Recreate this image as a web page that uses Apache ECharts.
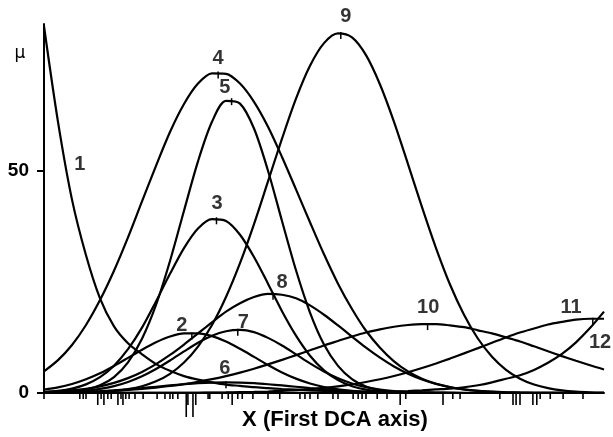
<!DOCTYPE html>
<html><head><meta charset="utf-8">
<script src="https://cdn.jsdelivr.net/npm/echarts@6/dist/echarts.min.js"></script>
<style>html,body{margin:0;padding:0;background:#fff}#c{width:613px;height:437px}</style>
</head><body><div id="c"></div>
<script>
// sample positions along the first DCA axis (0..100)
const xs = [0,2.5,5,7.5,10,12.5,15,17.5,20,22.5,25,27.5,30,32.5,35,37.5,40,42.5,45,47.5,50,52.5,55,57.5,60,62.5,65,67.5,70,72.5,75,77.5,80,82.5,85,87.5,90,92.5,95,97.5,100];

const curve1 = [82.5,61,43.5,31,21.3,15,11.2,8.7,6.5,5.0,3.8,3.0,2.4,1.9,1.6,1.3,1.1,0.9,0.75,0.6,0.5,0.4,0.3,0.25,0.2,0.15,0.12,0.1,0.08,0.06,0.05,0.04,0.03,0.03,0.02,0.02,0.02,0.01,0.01,0.01,0.01];
const curve2 = [0.76,1.27,2.03,3.09,4.44,6.08,7.89,9.73,11.4,12.7,13.4,13.4,12.8,11.6,9.94,8.12,6.29,4.63,3.23,2.14,1.35,0.81,0.46,0.25,0.13,0.06,0.03,0.01,0,0,0,0,0,0,0,0,0,0,0,0,0];
const curve3 = [0.20,0.46,0.98,1.94,3.56,6.15,9.85,14.7,20.6,26.8,32.6,37.0,39.1,38.7,35.6,30.6,24.6,18.4,12.9,8.39,5.10,2.89,1.53,0.76,0.35,0.15,0.06,0.02,0,0,0,0,0,0,0,0,0,0,0,0,0];
const curve4 = [4.87,7.39,10.8,15.3,20.9,27.5,35.0,43.1,51.1,58.7,65.0,69.6,71.9,71.8,69.6,65.5,59.9,53.1,45.8,38.4,31.2,24.6,18.9,14.0,10.2,7.13,4.85,3.21,2.07,1.29,0.78,0.46,0.26,0.15,0.08,0.04,0.02,0.01,0,0,0];
const curve5 = [0.04,0.12,0.31,0.76,1.72,3.59,6.89,12.2,19.8,29.7,41.0,52.1,61.0,65.7,65.1,59.5,50.0,38.7,27.6,18.1,10.9,6.10,3.12,1.48,0.64,0.26,0.10,0.03,0,0,0,0,0,0,0,0,0,0,0,0,0];
const curve6 = [0.06,0.1,0.17,0.28,0.41,0.6,0.83,1.1,1.4,1.7,1.97,2.2,2.35,2.4,2.35,2.2,1.97,1.7,1.4,1.1,0.83,0.6,0.41,0.28,0.17,0.1,0.06,0.04,0.02,0.01,0,0,0,0,0,0,0,0,0,0,0];
const curve7 = [0.06,0.13,0.27,0.51,0.91,1.55,2.49,3.77,5.40,7.31,9.35,11.3,12.9,13.9,14.2,13.7,12.4,10.7,8.70,6.67,4.84,3.32,2.15,1.32,0.76,0.42,0.21,0.10,0.05,0.02,0,0,0,0,0,0,0,0,0,0,0];
const curve8 = [0.20,0.35,0.58,0.95,1.50,2.28,3.35,4.74,6.49,8.56,10.9,13.4,15.9,18.3,20.2,21.6,22.3,22.1,21.3,19.7,17.6,15.2,12.7,10.2,7.95,5.97,4.32,3.02,2.04,1.33,0.83,0.51,0.30,0.17,0.09,0.05,0.02,0.01,0,0,0];
const curve9 = [0.01,0.03,0.06,0.12,0.24,0.46,0.86,1.53,2.62,4.32,6.86,10.45,15.3,21.6,29.2,38.0,47.6,57.2,66.2,73.6,78.7,80.9,80.0,76.0,69.4,61.0,51.5,41.8,32.6,24.4,17.6,12.2,8.16,5.22,3.22,1.91,1.09,0.59,0.31,0.16,0.08];
const curve10 = [0.10,0.14,0.20,0.28,0.38,0.52,0.70,0.93,1.21,1.57,2.0,2.51,3.11,3.81,4.59,5.47,6.43,7.45,8.52,9.6,10.7,11.7,12.7,13.6,14.3,14.9,15.3,15.5,15.5,15.2,14.8,14.1,13.4,12.5,11.6,10.5,9.39,8.3,7.24,6.23,5.29];
const curve11 = [0.01,0.01,0.01,0.01,0.01,0.01,0.01,0.01,0.02,0.02,0.04,0.06,0.08,0.12,0.18,0.24,0.34,0.48,0.65,0.88,1.16,1.51,1.95,2.48,3.1,3.83,4.67,5.61,6.64,7.74,8.91,10.1,11.3,12.5,13.6,14.5,15.4,16.0,16.5,16.7,16.7];
const curve12 = [0.01,0.01,0.01,0.01,0.01,0.01,0.01,0.01,0.01,0.01,0.01,0.01,0.01,0.01,0.01,0.01,0.01,0.02,0.03,0.04,0.06,0.08,0.12,0.17,0.24,0.33,0.45,0.6,0.8,1.0,1.3,1.75,2.4,3.2,4.0,5.2,6.8,8.8,11.4,14.6,18.3];

// optimum marks (small ticks at the curve maxima)
const peakX = [26.4,30.8,31.1,33.5,32.5,34.6,40.9,53.0,68.5,98.0];
const peakY = [13.4,39.3,72.1,66.1,2.4,14.2,22.3,81.0,15.5,16.7];

// curve labels
const labelText = ['1','2','3','4','5','6','7','8','9','10','11','12'];
const labelX = [6.4,24.6,30.9,31.1,32.3,32.3,35.6,42.5,53.9,68.6,94.1,99.3];
const labelY = [51.5,15.2,42.6,75.3,68.8,5.6,15.8,24.9,84.6,19.3,19.3,11.3];

// sample positions along the axis (rug) and number of samples stacked
const rugX = [0,6.4,7.0,7.5,9.6,10.2,10.7,11.4,12.0,13.2,13.75,14.1,14.6,15.2,16.25,17.7,20.2,21.6,22.5,23.0,23.9,25.4,25.7,26.6,27.1,29.3,29.6,31.8,32.9,33.6,34.6,35.4,37.3,40.0,42.1,45.7,46.6,47.5,48.9,51.6,52.5,55.2,56.1,56.8,57.5,59.5,61.25,63.6,64.6,71.25,73.0,74.3,81.4,83.75,84.3,85.0,87.3,88.0,88.6,90.4,92.7,96.25];
const rugN = [1,1,1,1,2,1,2,1,1,2,1,2,1,1,1,1,1,1,1,1,1,3,2,3,2,1,1,1,1,2,1,1,1,1,1,1,1,1,1,1,1,1,1,1,1,1,1,2,1,2,1,1,1,2,2,2,2,2,1,1,1,1];

const yTicks = [0,50];

const curves = [curve1,curve2,curve3,curve4,curve5,curve6,curve7,curve8,curve9,curve10,curve11,curve12];
const FONT = '"Liberation Sans", Arial, sans-serif';

const series = curves.map((c, k) => ({
  type: 'line', name: 'c' + (k+1),
  data: xs.map((x, j) => [x, c[j]]),
  smooth: 0.3, showSymbol: false, symbol: 'none', silent: true,
  lineStyle: {color: '#000', width: 2.2}, z: 3
}));

series.push({
  type: 'custom', clip: false, silent: true, z: 4,
  data: peakX.map((x, i) => [x, peakY[i]]),
  renderItem: (params, api) => {
    const p = api.coord([api.value(0), api.value(1)]);
    return {type: 'line', shape: {x1: p[0], y1: p[1] - 1, x2: p[0], y2: p[1] + 6},
      style: {stroke: '#000', lineWidth: 1.5}};
  }
});

series.push({
  type: 'custom', clip: false, silent: true, z: 4,
  data: rugX.map((x, i) => [x, rugN[i]]),
  renderItem: (params, api) => {
    const p = api.coord([api.value(0), 0]);
    const len = api.value(1) === 3 ? 24 : api.value(1) * 6;
    return {type: 'line', shape: {x1: p[0], y1: p[1], x2: p[0], y2: p[1] + len},
      style: {stroke: '#000', lineWidth: 1.6}};
  }
});

series.push({
  type: 'scatter', clip: false, silent: true, symbolSize: 0, z: 5,
  data: labelX.map((x, i) => ({name: labelText[i], value: [x, labelY[i]]})),
  label: {show: true, position: 'inside', formatter: p => p.name,
    color: '#000', fontWeight: 'bold', fontSize: 20, fontFamily: FONT}
});

const chart = echarts.init(document.getElementById('c'), null, {renderer: 'canvas'});
chart.setOption({
  animation: false,
  backgroundColor: '#fff',
  grid: {left: 44, right: 9, top: 24, bottom: 44, containLabel: false},
  xAxis: {
    type: 'value', min: 0, max: 100,
    axisLine: {show: true, onZero: false, lineStyle: {color: '#000', width: 2}},
    axisTick: {show: false}, axisLabel: {show: false}, splitLine: {show: false}
  },
  yAxis: {
    type: 'value', min: 0, max: 83, interval: 50,
    axisLine: {show: true, lineStyle: {color: '#000', width: 2}},
    axisTick: {show: true, length: 7, customValues: yTicks, lineStyle: {color: '#000', width: 2}},
    axisLabel: {show: true, customValues: yTicks, margin: 15, color: '#000', fontWeight: 'bold', fontSize: 19, fontFamily: FONT},
    splitLine: {show: false}
  },
  graphic: [
    {type: 'text', x: 20, y: 54, style: {text: 'μ', align: 'center', verticalAlign: 'middle',
      font: '17px "DejaVu Sans", sans-serif', fill: '#000'}},
    {type: 'text', x: 335, y: 420, style: {text: 'X (First DCA axis)', align: 'center', verticalAlign: 'middle',
      font: 'bold 22px "Liberation Sans", Arial, sans-serif', fill: '#000'}}
  ],
  series: series
});
</script>
</body></html>
